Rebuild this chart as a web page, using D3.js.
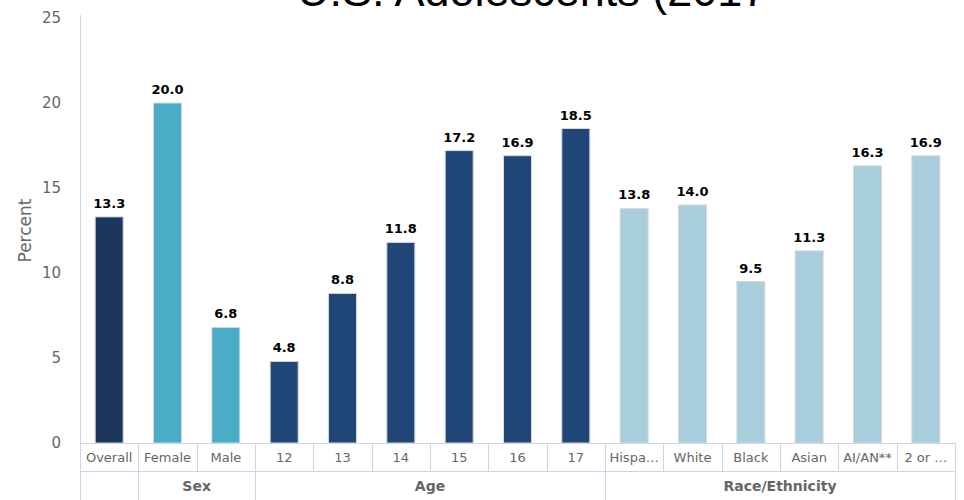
<!DOCTYPE html>
<html>
<head>
<meta charset="utf-8">
<script src="https://cdn.jsdelivr.net/npm/d3@7"></script>
<style>
  html, body { margin: 0; padding: 0; background: #fff; }
  svg { display: block; }
</style>
</head>
<body>
<div id="chart"></div>
<script>
// Data
const categories = ["Overall", "Female", "Male", "12", "13", "14", "15", "16", "17",
  "Hispa…", "White", "Black", "Asian", "AI/AN**", "2 or …"];
const values = [13.3, 20.0, 6.8, 4.8, 8.8, 11.8, 17.2, 16.9, 18.5,
  13.8, 14.0, 9.5, 11.3, 16.3, 16.9];
const groupOf = ["", "Sex", "Sex", "Age", "Age", "Age", "Age", "Age", "Age",
  "Race/Ethnicity", "Race/Ethnicity", "Race/Ethnicity", "Race/Ethnicity", "Race/Ethnicity", "Race/Ethnicity"];
const groupNames = ["", "Sex", "Age", "Race/Ethnicity"];
const groupColors = { "": "#1b365d", "Sex": "#4aadc7", "Age": "#1f4677", "Race/Ethnicity": "#a8cedb" };
const yTicks = [0, 5, 10, 15, 20, 25];
const titleText = "U.S. Adolescents (2017";

const W = 964, H = 500;
const margin = { left: 80, right: 9, top: 18, bottom: 57 };
const plotBottom = H - margin.bottom;   // baseline of bars
const rowH = 28;
const gridColor = "#ccd6eb";

const svg = d3.select("#chart").append("svg")
  .attr("width", W).attr("height", H);

// Title (runs off the top edge)
svg.append("text")
  .attr("x", 297).attr("y", 6)
  .attr("font-family", "Liberation Sans, Arial, sans-serif")
  .attr("font-size", 45)
  .attr("fill", "#000")
  .text(titleText);

const x = d3.scaleBand()
  .domain(categories)
  .range([margin.left, W - margin.right])
  .paddingInner(0).paddingOuter(0);

const y = d3.scaleLinear()
  .domain([0, 25])
  .range([plotBottom, margin.top]);

// Y axis
const yAxis = d3.axisLeft(y).tickValues(yTicks).tickSize(0).tickPadding(19);
const yg = svg.append("g").attr("transform", `translate(${margin.left},0)`).call(yAxis);
yg.select(".domain").remove();
yg.selectAll("text")
  .attr("font-family", "DejaVu Sans, sans-serif")
  .attr("font-size", 15)
  .attr("fill", "#666");

// Y axis line
svg.append("line")
  .attr("x1", margin.left + 0.5).attr("x2", margin.left + 0.5)
  .attr("y1", margin.top - 3).attr("y2", H)
  .attr("stroke", gridColor);

// Y axis title
svg.append("text")
  .attr("transform", `translate(31,${(margin.top + plotBottom) / 2}) rotate(-90)`)
  .attr("text-anchor", "middle")
  .attr("font-family", "DejaVu Sans, sans-serif")
  .attr("font-size", 17)
  .attr("fill", "#666")
  .text("Percent");

// Bars
const barW = x.bandwidth() * 0.48;
svg.append("g").selectAll("rect")
  .data(categories)
  .join("rect")
  .attr("x", (d) => x(d) + (x.bandwidth() - barW) / 2)
  .attr("y", (d, i) => y(values[i]))
  .attr("width", barW)
  .attr("height", (d, i) => y(0) - y(values[i]))
  .attr("fill", (d, i) => groupColors[groupOf[i]])
  .attr("stroke", "#d9d9d9")
  .attr("stroke-width", 1);

// Value labels
svg.append("g").selectAll("text")
  .data(categories)
  .join("text")
  .attr("x", (d) => x(d) + x.bandwidth() / 2)
  .attr("y", (d, i) => y(values[i]) - 9)
  .attr("text-anchor", "middle")
  .attr("font-family", "DejaVu Sans, sans-serif")
  .attr("font-weight", "bold")
  .attr("font-size", 13)
  .attr("fill", "#000")
  .text((d, i) => values[i].toFixed(1));

// X axis: category row
const xAxis = d3.axisBottom(x).tickSize(0).tickPadding(10);
const xg = svg.append("g").attr("transform", `translate(0,${plotBottom})`).call(xAxis);
xg.select(".domain").remove();
xg.selectAll("text")
  .attr("font-family", "DejaVu Sans, sans-serif")
  .attr("font-size", 13)
  .attr("fill", "#666");

const grid = svg.append("g").attr("stroke", gridColor).attr("stroke-width", 1);
// Horizontal rules
grid.append("line")
  .attr("x1", margin.left).attr("x2", W - margin.right)
  .attr("y1", plotBottom + 0.5).attr("y2", plotBottom + 0.5);
grid.append("line")
  .attr("x1", margin.left).attr("x2", W - margin.right)
  .attr("y1", plotBottom + rowH + 0.5).attr("y2", plotBottom + rowH + 0.5);
// Category separators
const edges = categories.map((d) => x(d)).concat([W - margin.right]);
grid.selectAll("line.cat")
  .data(edges.slice(1))
  .join("line")
  .attr("class", "cat")
  .attr("x1", (d) => Math.round(d) + 0.5).attr("x2", (d) => Math.round(d) + 0.5)
  .attr("y1", plotBottom).attr("y2", plotBottom + rowH);

// Group row
const groups = groupNames.map((g) => {
  const idx = categories.map((c, i) => i).filter((i) => groupOf[i] === g);
  const x0 = x(categories[idx[0]]);
  const x1 = x(categories[idx[idx.length - 1]]) + x.bandwidth();
  return { name: g, x0, x1 };
});
grid.selectAll("line.grp")
  .data(groups)
  .join("line")
  .attr("class", "grp")
  .attr("x1", (d) => Math.round(d.x1) + 0.5).attr("x2", (d) => Math.round(d.x1) + 0.5)
  .attr("y1", plotBottom + rowH).attr("y2", H);

svg.append("g").selectAll("text")
  .data(groups)
  .join("text")
  .attr("x", (d) => (d.x0 + d.x1) / 2)
  .attr("y", plotBottom + rowH + 20)
  .attr("text-anchor", "middle")
  .attr("font-family", "DejaVu Sans, sans-serif")
  .attr("font-weight", "bold")
  .attr("font-size", 14)
  .attr("fill", "#666")
  .text((d) => d.name);
</script>
</body>
</html>
